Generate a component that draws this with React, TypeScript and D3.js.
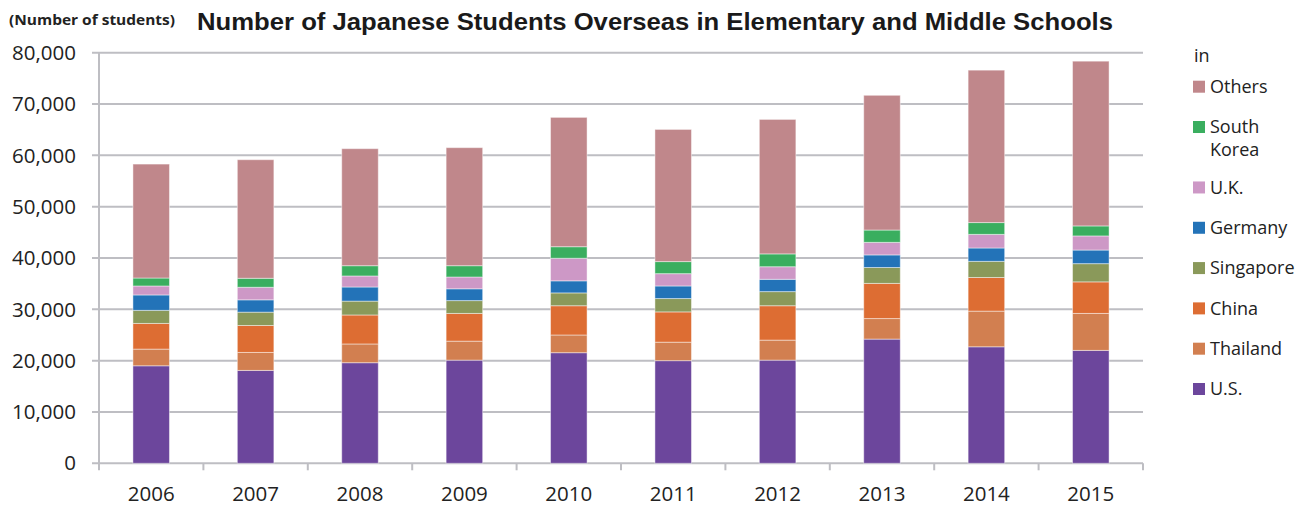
import * as d3 from "d3";

const years = ["2006", "2007", "2008", "2009", "2010", "2011", "2012", "2013", "2014", "2015"];
const countries = ["U.S.", "Thailand", "China", "Singapore", "Germany", "U.K.", "South Korea", "Others"];

const us = [19000, 18100, 19600, 20100, 21550, 20000, 20100, 24200, 22700, 22000];
const thailand = [3250, 3500, 3650, 3700, 3450, 3600, 3900, 4000, 6950, 7200];
const china = [5000, 5250, 5650, 5400, 5700, 5900, 6700, 6850, 6550, 6150];
const singapore = [2550, 2600, 2700, 2500, 2500, 2600, 2750, 3100, 3150, 3550];
const germany = [3000, 2400, 2750, 2300, 2350, 2450, 2400, 2450, 2600, 2650];
const uk = [1750, 2450, 2150, 2300, 4400, 2400, 2450, 2450, 2650, 2750];
const southKorea = [1550, 1750, 2000, 2200, 2250, 2350, 2500, 2400, 2300, 1950];
const others = [22200, 23100, 22800, 23000, 25200, 25750, 26200, 26250, 29700, 32100];

const yTicks = [0, 10000, 20000, 30000, 40000, 50000, 60000, 70000, 80000];

const colors: Record<string, string> = {
  "U.S.": "#6c469c",
  Thailand: "#d27f50",
  China: "#dd6d33",
  Singapore: "#8a995a",
  Germany: "#2373b8",
  "U.K.": "#cd98c6",
  "South Korea": "#3aae5f",
  Others: "#c0878b",
};

const seriesValues = [us, thailand, china, singapore, germany, uk, southKorea, others];

const width = 1297;
const height = 508;
const marginLeft = 99;
const plotRight = 1143;
const marginTop = 52.7;
const plotBottom = 463.3;
const font = "'Open Sans', 'Noto Sans', sans-serif";

export default function App() {
  const rows = years.map((yr, i) => {
    const r: Record<string, number | string> = { year: yr };
    countries.forEach((c, k) => (r[c] = seriesValues[k][i]));
    return r;
  });

  const stack = d3.stack<Record<string, number | string>>().keys(countries);
  const series = stack(rows as any);

  const x = d3
    .scaleBand()
    .domain(years)
    .range([marginLeft, plotRight])
    .paddingInner(0.65)
    .paddingOuter(0.325);

  const y = d3.scaleLinear().domain([0, 80000]).range([plotBottom, marginTop]);

  const step = x.step();
  const boundaries = d3.range(years.length + 1).map((i) => marginLeft + i * step);
  const fmt = d3.format(",");

  // legend slots: South Korea wraps onto two lines, so it takes 1.5 slots
  const legendOrder = [...countries].reverse();
  let slot = 0;
  const legendSlots = legendOrder.map((c) => {
    const s = slot;
    slot += c === "South Korea" ? 1.5 : 1;
    return s;
  });
  const legendY = d3.scaleLinear().domain([0, 7.5]).range([86.7, 389]);

  return (
    <svg
      width={width}
      height={height}
      style={{ position: "absolute", left: 0, top: 0, background: "#fff" }}
      fontFamily={font}
    >
      {/* title */}
      <text x={9} y={25} fontSize={13.5} fontWeight="bold" fill="#222" textLength={166} lengthAdjust="spacingAndGlyphs">
        (Number of students)
      </text>
      <text
        x={197}
        y={30}
        fontSize={24}
        fontWeight="bold"
        fill="#1a1a1a"
        fontFamily="'Liberation Sans', Arial, sans-serif"
        textLength={916}
        lengthAdjust="spacingAndGlyphs"
      >
        Number of Japanese Students Overseas in Elementary and Middle Schools
      </text>

      {/* gridlines */}
      {yTicks.map((t) => (
        <g key={t}>
          <line x1={92} x2={plotRight} y1={y(t)} y2={y(t)} stroke="#bebec3" strokeWidth={2} />
          <text x={76} y={y(t)} dy="0.35em" textAnchor="end" fontSize={20.5} fill="#222">
            {fmt(t)}
          </text>
        </g>
      ))}

      {/* axes */}
      <line x1={marginLeft} x2={marginLeft} y1={marginTop} y2={plotBottom} stroke="#bebec3" strokeWidth={2} />
      {boundaries.map((b, i) => (
        <line key={i} x1={b} x2={b} y1={plotBottom} y2={plotBottom + 7} stroke="#bebec3" strokeWidth={2} />
      ))}
      {years.map((yr) => (
        <text key={yr} x={x(yr)! + x.bandwidth() / 2} y={501} textAnchor="middle" fontSize={20.5} fill="#222">
          {yr}
        </text>
      ))}

      {/* bars */}
      {series.map((s) => (
        <g key={s.key} fill={colors[s.key]}>
          {s.map((d, i) => (
            <rect
              key={i}
              x={x(years[i])}
              width={x.bandwidth()}
              y={y(d[1])}
              height={y(d[0]) - y(d[1])}
              stroke="rgba(255,255,255,0.45)"
              strokeWidth={1}
            />
          ))}
        </g>
      ))}

      {/* legend */}
      <text x={1194} y={62} fontSize={18} fill="#222">
        in
      </text>
      {legendOrder.map((c, k) => {
        const cy = legendY(legendSlots[k]);
        return (
          <g key={c}>
            <rect x={1193} y={cy - 6} width={12} height={12} fill={colors[c]} />
            {c === "South Korea" ? (
              <text x={1210} y={cy} dy="0.35em" fontSize={18} fill="#222">
                <tspan x={1210}>South</tspan>
                <tspan x={1210} dy={23}>
                  Korea
                </tspan>
              </text>
            ) : (
              <text x={1210} y={cy} dy="0.35em" fontSize={18} fill="#222">
                {c}
              </text>
            )}
          </g>
        );
      })}
    </svg>
  );
}
